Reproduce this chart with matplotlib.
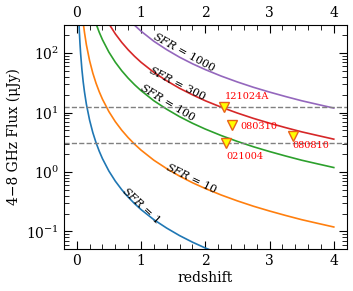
import matplotlib
matplotlib.use('Agg')
import matplotlib.pyplot as plt
from matplotlib.ticker import MultipleLocator, LogLocator, NullFormatter

plt.rcParams['font.family'] = 'DejaVu Serif'
plt.rcParams['mathtext.fontset'] = 'dejavuserif'

# redshift grid and 4-8 GHz flux (uJy)
z = [0.02, 0.03, 0.04, 0.05, 0.06, 0.08, 0.1, 0.12, 0.15, 0.2, 0.25, 0.3, 0.35,
     0.4, 0.5, 0.6, 0.7, 0.8, 0.9, 1.0, 1.2, 1.4, 1.6, 1.8, 2.0, 2.25, 2.5,
     2.75, 3.0, 3.25, 3.5, 3.75, 4.0]
flux_sfr1 = [1054, 441, 237, 147, 99.3, 53.5, 33.1, 22.4, 13.8, 7.46, 4.61, 3.12,
             2.24, 1.68, 1.04, 0.703, 0.505, 0.379, 0.294, 0.234, 0.158, 0.114,
             0.0853, 0.0662, 0.0528, 0.0410, 0.0327, 0.0266, 0.0221, 0.0186,
             0.0158, 0.0137, 0.0119]
flux_sfr10 = [10540, 4410, 2370, 1470, 993, 535, 331, 224, 138, 74.6, 46.1, 31.2,
              22.4, 16.8, 10.4, 7.03, 5.05, 3.79, 2.94, 2.34, 1.58, 1.14, 0.853,
              0.662, 0.528, 0.410, 0.327, 0.266, 0.221, 0.186, 0.158, 0.137,
              0.119]
flux_sfr100 = [105400, 44100, 23700, 14700, 9930, 5350, 3310, 2240, 1380, 746,
               461, 312, 224, 168, 104, 70.3, 50.5, 37.9, 29.4, 23.4, 15.8, 11.4,
               8.53, 6.62, 5.28, 4.10, 3.27, 2.66, 2.21, 1.86, 1.58, 1.37, 1.19]
flux_sfr300 = [316200, 132300, 71100, 44100, 29790, 16050, 9930, 6720, 4140,
               2238, 1383, 936, 672, 504, 312, 210.9, 151.5, 113.7, 88.2, 70.2,
               47.4, 34.2, 25.6, 19.9, 15.8, 12.3, 9.81, 7.98, 6.63, 5.58, 4.74,
               4.11, 3.57]
flux_sfr1000 = [1054000, 441000, 237000, 147000, 99300, 53500, 33100, 22400,
                13800, 7460, 4610, 3120, 2240, 1680, 1040, 703, 505, 379, 294,
                234, 158, 114, 85.3, 66.2, 52.8, 41.0, 32.7, 26.6, 22.1, 18.6,
                15.8, 13.7, 11.9]
sfr_labels = ['1', '10', '100', '300', '1000']

# GRBs
grb_names = ['121024A', '080310', '080810', '021004']
grb_z = [2.29, 2.41, 3.36, 2.33]
grb_flux = [12.2, 6.2, 3.98, 3.13]
limits = [12.2, 3.1]

fig = plt.figure(figsize=(3.53, 2.91), dpi=100)
ax = fig.add_axes([0.181, 0.143, 0.801, 0.772])

curves = [flux_sfr1, flux_sfr10, flux_sfr100, flux_sfr300, flux_sfr1000]
for fl in curves:
    ax.plot(z, fl, lw=1.2)

for lim in limits:
    ax.axhline(lim, color='gray', ls='--', lw=1.0)

ax.plot(grb_z, grb_flux, 'v', ms=7, mfc='yellow', mec='#e8621a', mew=1.0,
        ls='none', zorder=5)

# label positions/angles along curves
lab_pos = [(1.01, 0.279, -43), (1.78, 0.79, -26), (1.42, 15.0, -31),
           (1.57, 31.3, -27), (1.68, 104, -29)]
for s, (x, y, rot) in zip(sfr_labels, lab_pos):
    ax.text(x, y, '$SFR$ = ' + s, rotation=rot, fontsize=8, ha='center',
            va='center', rotation_mode='anchor')

grb_text_pos = [(2.30, 18.9), (2.54, 5.93), (3.35, 2.74), (2.33, 1.81)]
for name, (x, y) in zip(grb_names, grb_text_pos):
    ax.text(x, y, name, color='red', fontsize=7, ha='left', va='center')

ax.set_yscale('log')
ax.set_xlim(-0.2, 4.2)
ax.set_ylim(0.05, 300)
ax.set_xlabel('redshift', fontsize=10, labelpad=2)
ax.set_ylabel('4\u22128 GHz Flux (\u03bcJy)', fontsize=10)

ax.xaxis.set_major_locator(MultipleLocator(1))
ax.xaxis.set_minor_locator(MultipleLocator(0.2))
ax.yaxis.set_minor_locator(LogLocator(base=10, subs=range(2, 10), numticks=20))
ax.yaxis.set_minor_formatter(NullFormatter())
ax.tick_params(which='both', direction='in', top=True, right=True,
               labeltop=True, labelsize=10)
ax.tick_params(which='major', length=6)
ax.tick_params(which='minor', length=3.5)

fig.savefig('out.png', dpi=100)
